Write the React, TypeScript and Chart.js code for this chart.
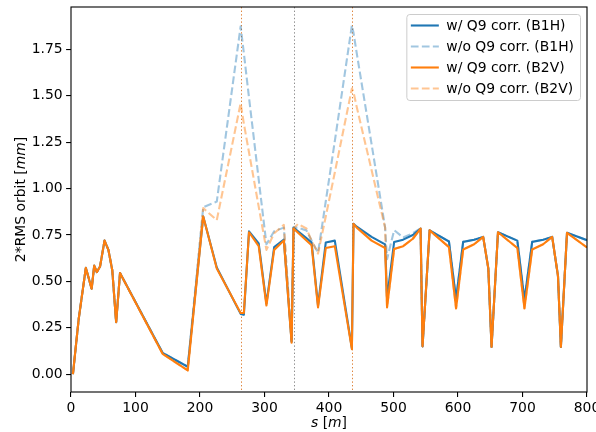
import React, { useEffect, useRef } from "react";
import { Chart, registerables } from "chart.js";

Chart.register(...registerables);

// ---- data ----
const sPos = [
  3, 12, 23, 32, 36, 40, 45, 52, 58, 64,
  70, 76, 142, 181, 205, 226, 263, 268, 276, 291,
  303, 315, 330, 342, 345, 352, 365, 373, 383, 395,
  409, 435.5, 438, 443, 466, 487, 490, 501, 515, 530,
  542, 545, 556, 586, 597, 608, 625, 639, 647, 652,
  662, 692, 703, 715, 732, 746, 755, 759.5, 769, 800,
];

const b1hCorr = [
  0, 0.30, 0.573, 0.46, 0.585, 0.55, 0.58, 0.72, 0.67, 0.56,
  0.28, 0.545, 0.115, 0.04, 0.85, 0.575, 0.325, 0.32, 0.77, 0.705,
  0.38, 0.685, 0.725, 0.175, 0.79, 0.77, 0.733, 0.71, 0.37, 0.71,
  0.72, 0.14, 0.81, 0.795, 0.74, 0.70, 0.41, 0.713, 0.725, 0.75,
  0.785, 0.15, 0.775, 0.715, 0.405, 0.713, 0.725, 0.74, 0.57, 0.147,
  0.765, 0.72, 0.40, 0.713, 0.725, 0.74, 0.53, 0.147, 0.762, 0.722,
];

const b1hNoCorr = [
  0, 0.30, 0.573, 0.46, 0.585, 0.55, 0.58, 0.72, 0.67, 0.56,
  0.28, 0.545, 0.115, 0.04, 0.90, 0.93, 1.875, 1.73, 1.49, 1.05,
  0.70, 0.77, 0.79, 0.175, 0.79, 0.79, 0.775, 0.72, 0.655, 0.932,
  1.256, 1.88, 1.84, 1.73, 1.24, 0.79, 0.62, 0.776, 0.737, 0.76,
  0.785, 0.15, 0.775, 0.715, 0.405, 0.713, 0.725, 0.74, 0.57, 0.147,
  0.765, 0.72, 0.40, 0.713, 0.725, 0.74, 0.53, 0.147, 0.762, 0.722,
];

const b2vCorr = [
  0, 0.30, 0.573, 0.46, 0.585, 0.55, 0.58, 0.72, 0.67, 0.56,
  0.28, 0.545, 0.11, 0.02, 0.85, 0.57, 0.33, 0.33, 0.765, 0.69,
  0.37, 0.67, 0.72, 0.17, 0.785, 0.762, 0.72, 0.695, 0.36, 0.68,
  0.69, 0.135, 0.81, 0.79, 0.72, 0.68, 0.36, 0.675, 0.69, 0.73,
  0.785, 0.15, 0.775, 0.685, 0.355, 0.672, 0.70, 0.74, 0.57, 0.147,
  0.765, 0.68, 0.355, 0.672, 0.70, 0.74, 0.53, 0.147, 0.762, 0.683,
];

const b2vNoCorr = [
  0, 0.30, 0.573, 0.46, 0.585, 0.55, 0.58, 0.72, 0.67, 0.56,
  0.28, 0.545, 0.11, 0.02, 0.895, 0.83, 1.46, 1.35, 1.195, 0.903,
  0.67, 0.76, 0.805, 0.175, 0.785, 0.81, 0.785, 0.72, 0.65, 0.85,
  1.087, 1.54, 1.52, 1.44, 1.10, 0.79, 0.36, 0.675, 0.69, 0.73,
  0.785, 0.15, 0.775, 0.685, 0.355, 0.672, 0.70, 0.74, 0.57, 0.147,
  0.765, 0.68, 0.355, 0.672, 0.70, 0.74, 0.53, 0.147, 0.762, 0.683,
];

const seriesLabels = [
  "w/ Q9 corr. (B1H)",
  "w/o Q9 corr. (B1H)",
  "w/ Q9 corr. (B2V)",
  "w/o Q9 corr. (B2V)",
];

const markerS = [263.6, 345.5, 435.5];
const xTicks = [0, 100, 200, 300, 400, 500, 600, 700, 800];
const yTicks = [0, 0.25, 0.5, 0.75, 1.0, 1.25, 1.5, 1.75];
const xTitleRuns: [string, boolean][] = [["s", true], [" [", false], ["m", true], ["]", false]];
const yTitleRuns: [string, boolean][] = [["2*RMS orbit [", false], ["mm", true], ["]", false]];

// ---- styles ----
const FONT = '"DejaVu Sans", "Liberation Sans", sans-serif';
const FS = 13.9;
const C0 = "#1f77b4";
const C1 = "#ff7f0e";
const C0L = "rgba(31,119,180,0.42)";
const C1L = "rgba(255,127,14,0.45)";
const markerColors = ["rgba(220,120,40,0.9)", "rgba(130,130,130,0.9)", "rgba(220,120,40,0.9)"];

const pts = (vals: number[]) => sPos.map((s, i) => ({ x: s, y: vals[i] }));

function drawRuns(ctx: CanvasRenderingContext2D, runs: [string, boolean][], x: number, y: number) {
  let total = 0;
  const widths = runs.map(([t, it]) => {
    ctx.font = `${it ? "italic " : ""}${FS}px ${FONT}`;
    const w = ctx.measureText(t).width;
    total += w;
    return w;
  });
  let cx = x - total / 2;
  runs.forEach(([t, it], i) => {
    ctx.font = `${it ? "italic " : ""}${FS}px ${FONT}`;
    ctx.fillText(t, cx, y);
    cx += widths[i];
  });
}

const decorPlugin = {
  id: "decor",
  beforeDatasetsDraw(chart: any) {
    const { ctx, chartArea, scales } = chart;
    ctx.save();
    ctx.lineWidth = 1;
    ctx.setLineDash([1.4, 2.2]);
    markerS.forEach((s, i) => {
      const x = Math.round(scales.x.getPixelForValue(s)) + 0.5;
      ctx.strokeStyle = markerColors[i];
      ctx.beginPath();
      ctx.moveTo(x, chartArea.top);
      ctx.lineTo(x, chartArea.bottom);
      ctx.stroke();
    });
    ctx.restore();
  },
  afterDraw(chart: any) {
    const { ctx, chartArea } = chart;
    ctx.save();
    // spines
    ctx.strokeStyle = "#000";
    ctx.lineWidth = 1.1;
    ctx.setLineDash([]);
    ctx.strokeRect(chartArea.left, chartArea.top, chartArea.right - chartArea.left, chartArea.bottom - chartArea.top);

    // axis titles
    ctx.fillStyle = "#000";
    ctx.textBaseline = "alphabetic";
    ctx.textAlign = "left";
    drawRuns(ctx, xTitleRuns, (chartArea.left + chartArea.right) / 2, 427);
    ctx.save();
    ctx.translate(25, (chartArea.top + chartArea.bottom) / 2);
    ctx.rotate(-Math.PI / 2);
    drawRuns(ctx, yTitleRuns, 0, 0);
    ctx.restore();

    // legend
    const ds = chart.data.datasets;
    ctx.font = `${FS}px ${FONT}`;
    const tw = Math.max(...ds.map((d: any) => ctx.measureText(d.label).width));
    const padL = 4.5, handle = 28, gap = 7.5, padR = 6, rowH = 21;
    const w = padL + handle + gap + tw + padR;
    const h = rowH * ds.length + 2;
    const x0 = chartArea.right - 7 - w;
    const y0 = chartArea.top + 7;
    ctx.beginPath();
    (ctx as any).roundRect(x0 + 0.5, y0 + 0.5, w, h, 3);
    ctx.fillStyle = "rgba(255,255,255,0.8)";
    ctx.fill();
    ctx.strokeStyle = "#cccccc";
    ctx.lineWidth = 1;
    ctx.stroke();
    ds.forEach((d: any, i: number) => {
      const cy = y0 + 11.5 + rowH * i;
      ctx.beginPath();
      ctx.strokeStyle = d.borderColor;
      ctx.lineWidth = d.borderWidth;
      ctx.setLineDash(d.borderDash || []);
      ctx.moveTo(x0 + padL, cy);
      ctx.lineTo(x0 + padL + handle, cy);
      ctx.stroke();
      ctx.setLineDash([]);
      ctx.fillStyle = "#000";
      ctx.textBaseline = "middle";
      ctx.font = `${FS}px ${FONT}`;
      ctx.fillText(d.label, x0 + padL + handle + gap, cy + 0.5);
    });
    ctx.restore();
  },
};

export default function App() {
  const ref = useRef<HTMLCanvasElement>(null);
  useEffect(() => {
    if (!ref.current) return;
    const lw = 2.1;
    const dash = [7.7, 3.3];
    const chart = new Chart(ref.current, {
      type: "line",
      data: {
        datasets: [
          { label: seriesLabels[0], data: pts(b1hCorr), borderColor: C0, borderWidth: lw, order: 4 },
          { label: seriesLabels[1], data: pts(b1hNoCorr), borderColor: C0L, borderWidth: lw, borderDash: dash, order: 3 },
          { label: seriesLabels[2], data: pts(b2vCorr), borderColor: C1, borderWidth: lw, order: 2 },
          { label: seriesLabels[3], data: pts(b2vNoCorr), borderColor: C1L, borderWidth: lw, borderDash: dash, order: 1 },
        ] as any,
      },
      options: {
        animation: false,
        responsive: false,
        devicePixelRatio: 1,
        parsing: false as any,
        normalized: true,
        elements: {
          point: { radius: 0, hoverRadius: 0 },
          line: { tension: 0, fill: false, borderJoinStyle: "round", borderCapStyle: "butt" },
        },
        layout: { padding: { left: 0, right: 9, top: 7, bottom: 0 } },
        plugins: {
          legend: { display: false },
          tooltip: { enabled: false },
        },
        events: [],
        scales: {
          x: {
            type: "linear",
            min: 0,
            max: 800,
            afterBuildTicks: (scale: any) => {
              scale.ticks = xTicks.map((v) => ({ value: v }));
            },
            afterFit: (scale: any) => {
              scale.height = 40;
              scale.paddingLeft = 0;
              scale.paddingRight = 0;
            },
            ticks: {
              autoSkip: false,
              maxRotation: 0,
              minRotation: 0,
              padding: 3,
              color: "#000",
              font: { family: FONT, size: FS },
              callback: (v: any) => String(v),
            },
            grid: { drawOnChartArea: false, drawTicks: true, tickLength: 4.9, color: "#000", lineWidth: 1.1 },
            border: { display: false },
          },
          y: {
            type: "linear",
            min: -0.096,
            max: 1.979,
            afterBuildTicks: (scale: any) => {
              scale.ticks = yTicks.map((v) => ({ value: v }));
            },
            afterFit: (scale: any) => {
              scale.width = 71;
              scale.paddingTop = 0;
              scale.paddingBottom = 0;
            },
            ticks: {
              autoSkip: false,
              padding: 3.5,
              color: "#000",
              font: { family: FONT, size: FS },
              callback: (v: any) => Number(v).toFixed(2),
            },
            grid: { drawOnChartArea: false, drawTicks: true, tickLength: 4.9, color: "#000", lineWidth: 1.1 },
            border: { display: false },
          },
        },
      },
      plugins: [decorPlugin],
    });
    return () => chart.destroy();
  }, []);

  return (
    <div style={{ position: "absolute", left: 0, top: 0, width: 596, height: 432, background: "#fff" }}>
      <canvas ref={ref} width={596} height={432} style={{ display: "block" }} />
    </div>
  );
}
